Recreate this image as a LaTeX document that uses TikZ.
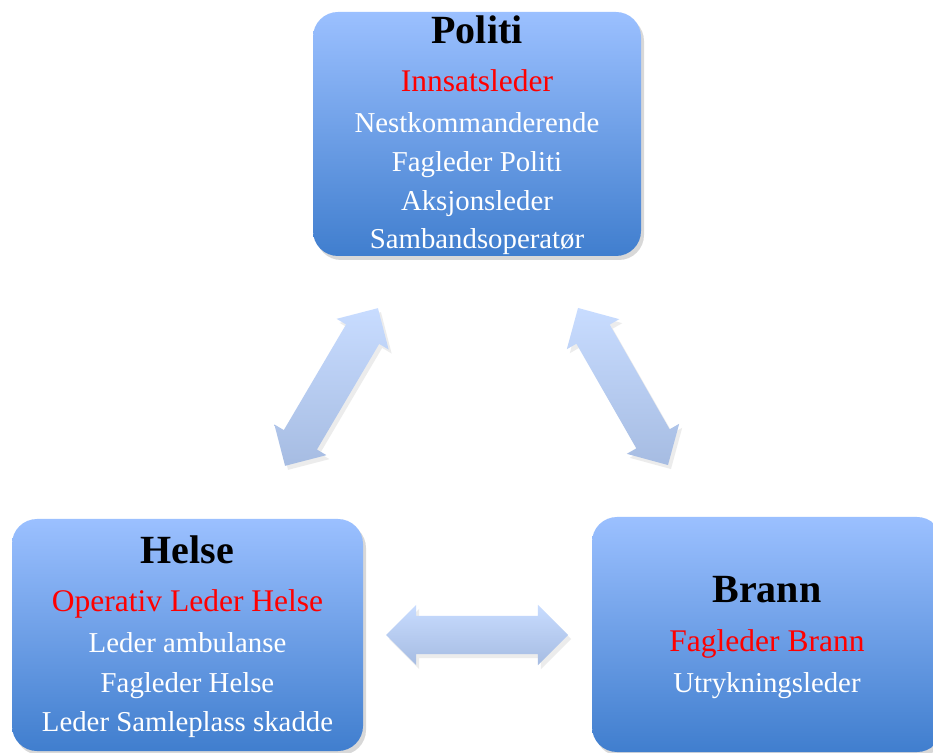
\documentclass[tikz,border=0pt]{standalone}
\usepackage{fontspec}
\setmainfont{Liberation Serif}
\usetikzlibrary{shapes.arrows,shadows,positioning}
\definecolor{boxtop}{RGB}{155,192,255}
\definecolor{boxbottom}{RGB}{64,126,206}
\definecolor{arrowtop}{RGB}{200,220,255}
\definecolor{arrowbottom}{RGB}{166,188,226}
\tikzset{
  etat/.style={
    rectangle, rounded corners=25pt, inner sep=0pt,
    top color=boxtop, bottom color=boxbottom,
    drop shadow={opacity=0.3, shadow xshift=3pt, shadow yshift=-4pt},
  },
  head/.style={font=\fontsize{40}{42}\selectfont\bfseries, text=black, anchor=base},
  chief/.style={font=\fontsize{31.5}{36}\selectfont, text=red, anchor=base},
  role/.style={font=\fontsize{28.8}{32}\selectfont, text=white, anchor=base},
  link/.style={
    double arrow, double arrow head extend=11pt,
    inner xsep=0pt, inner ysep=19pt,
    top color=arrowtop, bottom color=arrowbottom,
    drop shadow={opacity=0.15, shadow xshift=3pt, shadow yshift=-4pt},
  },
}

\begin{document}
\begin{tikzpicture}[x=1pt,y=1pt]
  \useasboundingbox[fill=white] (0,0) rectangle (933,752);

  % the three services
  \node[etat, minimum width=328pt, minimum height=244pt] (politi) at (477,618) {};
  \node[etat, minimum width=351pt, minimum height=232pt] (helse) at (187.5,117) {};
  \node[etat, minimum width=350pt, minimum height=235pt] (brann) at (767,117.5) {};

  % Politi
  \node[head]  (politiT) at ([yshift=-32pt]politi.north) {Politi};
  \node[chief] (politiL) at ([yshift=-80pt]politi.north) {Innsatsleder};
  \node[role]  (politiA) at ([yshift=-121pt]politi.north) {Nestkommanderende};
  \node[role]  (politiB) at ([yshift=-160pt]politi.north) {Fagleder Politi};
  \node[role]  (politiC) at ([yshift=-199pt]politi.north) {Aksjonsleder};
  \node[role]  (politiD) at ([yshift=-237pt]politi.north) {Sambandsoperatør};

  % Helse
  \node[head]  (helseT) at ([yshift=-45pt]helse.north) {Helse};
  \node[chief] (helseL) at ([yshift=-93pt]helse.north) {Operativ Leder Helse};
  \node[role]  (helseA) at ([yshift=-134pt]helse.north) {Leder ambulanse};
  \node[role]  (helseB) at ([yshift=-174pt]helse.north) {Fagleder Helse};
  \node[role]  (helseC) at ([yshift=-213pt]helse.north) {Leder Samleplass skadde};

  % Brann
  \node[head]  (brannT) at ([yshift=-86pt]brann.north) {Brann};
  \node[chief] (brannL) at ([yshift=-135pt]brann.north) {Fagleder Brann};
  \node[role]  (brannA) at ([yshift=-176pt]brann.north) {Utrykningsleder};

  % two-way links
  \node[link, minimum height=183pt, rotate=59.5] (linkHP) at (331.5,365) {};
  \node[link, minimum height=181pt, rotate=-60.2] (linkPB) at (623,365.5) {};
  \node[link, minimum height=182pt] (linkHB) at (477,117) {};
\end{tikzpicture}
\end{document}
